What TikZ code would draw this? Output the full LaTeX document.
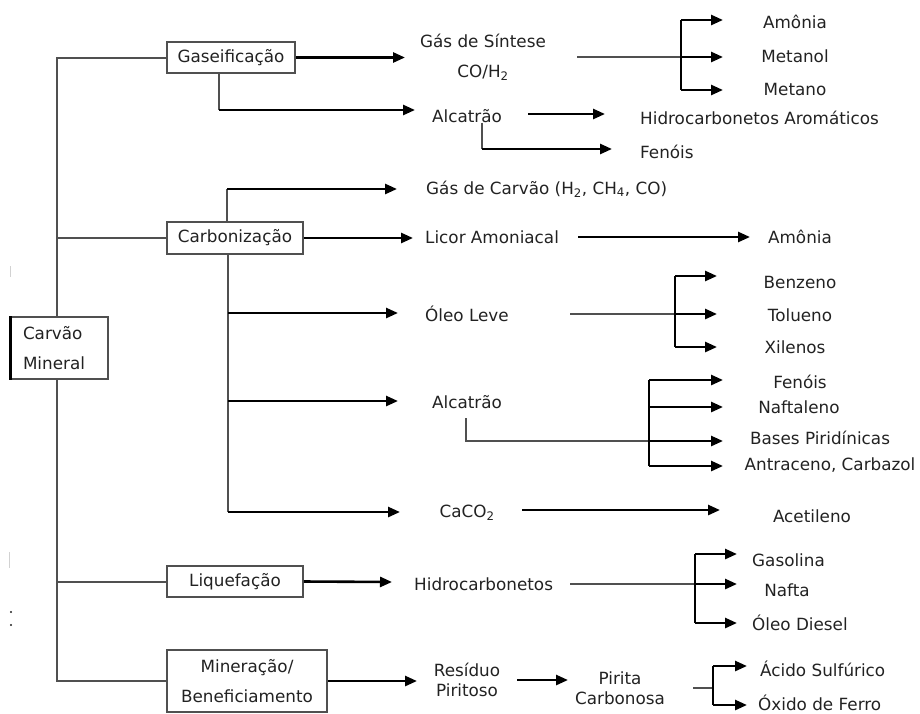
\documentclass[tikz,border=0pt]{standalone}
\usepackage{fontspec}
\setmainfont{DejaVu Sans}
\usetikzlibrary{arrows.meta}
\definecolor{ink}{HTML}{222222}
\definecolor{wire}{HTML}{505050}
\begin{document}
\begin{tikzpicture}[x=1pt,y=-1pt,
  every node/.style={font=\fontsize{16.8}{20}\selectfont, text=ink, inner sep=0pt},
  proc/.style={draw=wire, line width=1.7pt, fill=white, minimum height=31pt, inner sep=0pt},
  tall/.style={font=\fontsize{16.8}{30}\selectfont, minimum height=62pt},
  pair/.style={font=\fontsize{16.8}{20.5}\selectfont, align=center},
  tree/.style={draw=wire, line width=2pt},
  feed/.style={draw=wire, line width=1.6pt},
  fork/.style={draw=black, line width=2.6pt},
  arr/.style={draw=black, line width=2.6pt, -{Triangle[length=12pt,width=10pt]}},
  lbl/.style={anchor=west},
  ]
\useasboundingbox (0,0) rectangle (920,713);

% process boxes
\node[proc, minimum width=128pt] (gas) at (231,57.5) {Gaseificação};
\node[proc, minimum width=136pt, minimum height=32pt] (carb) at (235,238) {Carbonização};
\node[proc, minimum width=136pt] (liq) at (235,581.5) {Liquefação};
\node[proc, tall, minimum width=160pt, align=center] (min) at (247,681) {Mineração/\\Beneficiamento};

% spine from the source box to every process
\coordinate (spine) at (57,0);
\draw[tree] (gas.west) -- (gas.west -| spine) -- (min.west -| spine) -- (min.west);
\draw[tree] (carb.west) -- (carb.west -| spine);
\draw[tree] (liq.west) -- (liq.west -| spine);

% source box, drawn over the spine
\node[proc, tall, minimum width=97pt, text width=73pt, inner xsep=12pt, align=left] (src) at (59.5,348) {Carvão\\Mineral};
\draw[draw=black, line width=3.2pt] (src.north west) -- (src.south west);

% products: gasification
\node (sint) at (483,41) {Gás de Síntese};
\node (coh) at (483,73) {CO/H\textsubscript{2}};
\node (amo1) at (795,22) {Amônia};
\node (mtol) at (795,56) {Metanol};
\node (mtno) at (795,89) {Metano};
\node (alc1) at (467,116) {Alcatrão};
\node[lbl] (haro) at (640,118) {Hidrocarbonetos Aromáticos};
\node[lbl] (fen1) at (640,152) {Fenóis};

% products: carbonization
\node[lbl] (gcar) at (426,189) {Gás de Carvão (H\textsubscript{2}, CH\textsubscript{4}, CO)};
\node[lbl] (licor) at (425,237) {Licor Amoniacal};
\node (amo2) at (800,237) {Amônia};
\node[lbl] (oleo) at (425,314) {Óleo Leve};
\node (benz) at (800,282) {Benzeno};
\node (tol) at (800,315) {Tolueno};
\node (xil) at (795,347) {Xilenos};
\node[lbl] (alc2) at (432,402) {Alcatrão};
\node (fen2) at (800,382) {Fenóis};
\node (naft) at (799,407) {Naftaleno};
\node (bases) at (820,438) {Bases Piridínicas};
\node (antr) at (830,465) {Antraceno, Carbazol};
\node (caco) at (467,513) {CaCO\textsubscript{2}};
\node (acet) at (812,516) {Acetileno};

% products: liquefaction
\node[lbl] (hidro) at (414,584) {Hidrocarbonetos};
\node[lbl] (gasol) at (752,560) {Gasolina};
\node (nafta) at (787,590) {Nafta};
\node[lbl] (diesel) at (752,623) {Óleo Diesel};

% products: mining / beneficiation
\node[pair] (resid) at (467,680) {Resíduo\\Piritoso};
\node[pair] (pirita) at (620,688) {Pirita\\Carbonosa};
\node[lbl] (acido) at (760,669) {Ácido Sulfúrico};
\node[lbl] (oxido) at (758,703) {Óxido de Ferro};

% gasification connectors
\draw[arr] (gas.east) -- (405,57.5);
\draw[tree] ([xshift=-12pt]gas.south) -- (219,110);
\draw[arr] (219,110) -- (415,110);
\coordinate (kA) at (681,57);
\draw[feed] (577,57) -- (kA);
\draw[fork] (681,20) -- (681,90);
\draw[arr] (681,20) -- (723,20);
\draw[arr] (kA) -- (723,57);
\draw[arr] (681,90) -- (723,90);
\draw[arr] (528,114) -- (605,114);
\draw[tree] (alc1.south -| 482,0) -- (482,149);
\draw[arr] (482,149) -- (612,149);

% carbonization connectors
\draw[tree] ([xshift=-8pt]carb.north) -- (227,189);
\draw[arr] (227,189) -- (397,189);
\draw[arr] (carb.east) -- (413,238);
\draw[tree] ([xshift=-7pt]carb.south) -- (228,512);
\draw[arr] (228,313) -- (398,313);
\draw[arr] (228,401) -- (398,401);
\draw[arr] (228,512) -- (400,512);
\draw[arr] (578,237) -- (750,237);
% light oil fork
\coordinate (kB) at (675,314);
\draw[feed] (570,314) -- (kB);
\draw[fork] (675,276) -- (675,347);
\draw[arr] (675,276) -- (717,276);
\draw[arr] (kB) -- (717,314);
\draw[arr] (675,347) -- (717,347);
% tar fork
\draw[feed] (466,418) -- (466,441) -- (649,441);
\draw[fork] (649,380) -- (649,466);
\draw[arr] (649,380) -- (723,380);
\draw[arr] (649,407) -- (723,407);
\draw[arr] (649,441) -- (723,441);
\draw[arr] (649,466) -- (723,466);
\draw[arr] (522,510) -- (720,510);

% liquefaction connectors
\draw[arr] (liq.east) -- (392,582);
\coordinate (kC) at (695,584);
\draw[feed] (570,584) -- (kC);
\draw[fork] (695,554) -- (695,623);
\draw[arr] (695,554) -- (737,554);
\draw[arr] (kC) -- (737,584);
\draw[arr] (695,623) -- (737,623);

% mining connectors
\draw[arr] (min.east) -- (417,681);
\draw[arr] (517,680) -- (568,680);
\draw[feed] (693,688) -- (713,688);
\draw[fork] (713,666) -- (713,705);
\draw[arr] (713,666) -- (747,666);
\draw[arr] (713,705) -- (747,705);

% faint marks along the left margin
\draw[gray!35, line width=1pt] (10,266) -- (10,277);
\draw[gray!35, line width=1pt] (9,552) -- (9,568);
\fill[ink] (11,612) circle (1.2pt) (11,625) circle (1.2pt);
\end{tikzpicture}
\end{document}
